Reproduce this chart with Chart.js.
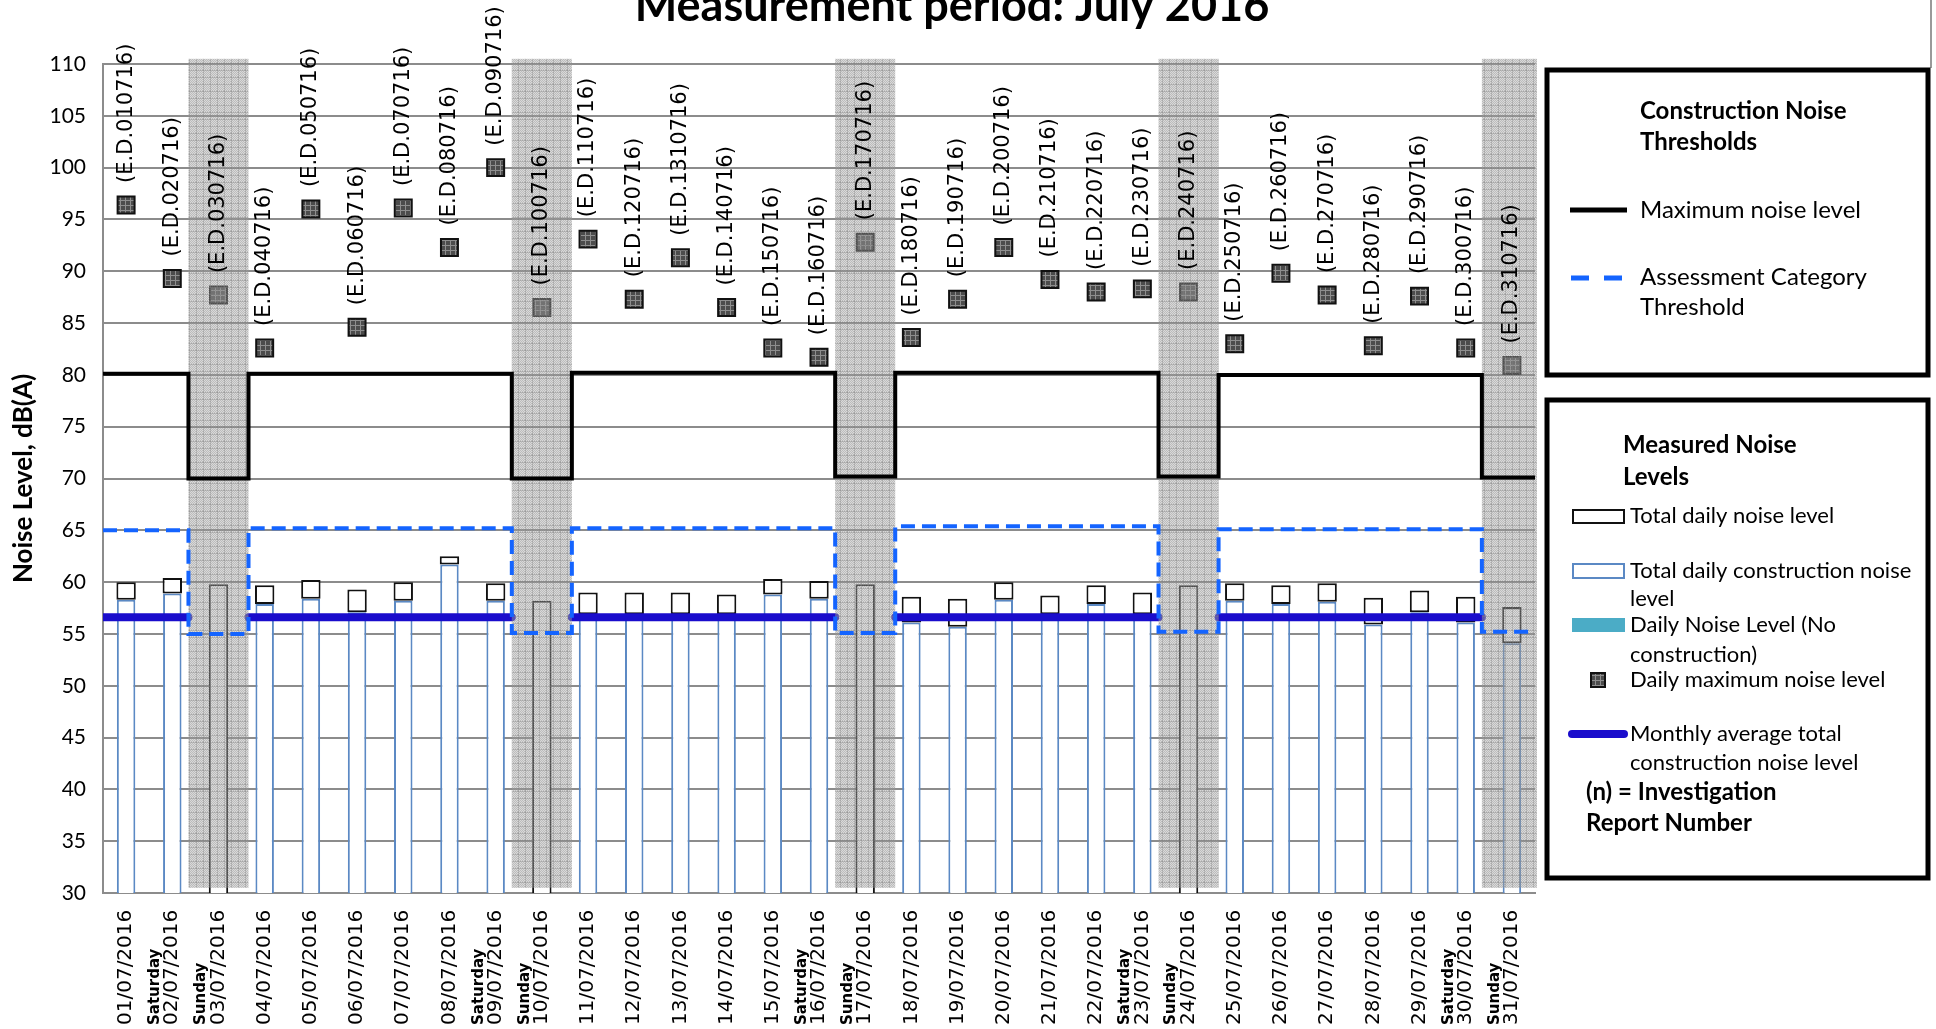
<!DOCTYPE html>
<html>
<head>
<meta charset="utf-8">
<title>Measurement period: July 2016</title>
<script src="https://cdn.jsdelivr.net/npm/chart.js@4.4.1/dist/chart.umd.min.js"></script>
<style>
  html, body { margin: 0; padding: 0; background: #fff; }
  #wrap { width: 1936px; height: 1029px; }
</style>
</head>
<body>
<div id="wrap"><canvas id="noiseChart"></canvas></div>
<script>
// Days of July 2016
const dates = [
  '01/07/2016', '02/07/2016', '03/07/2016', '04/07/2016', '05/07/2016', '06/07/2016', '07/07/2016',
  '08/07/2016', '09/07/2016', '10/07/2016', '11/07/2016', '12/07/2016', '13/07/2016', '14/07/2016',
  '15/07/2016', '16/07/2016', '17/07/2016', '18/07/2016', '19/07/2016', '20/07/2016', '21/07/2016',
  '22/07/2016', '23/07/2016', '24/07/2016', '25/07/2016', '26/07/2016', '27/07/2016', '28/07/2016',
  '29/07/2016', '30/07/2016', '31/07/2016'
];
const dayNames = [
  '', 'Saturday', 'Sunday', '', '', '', '', '', 'Saturday', 'Sunday', '', '', '', '', '', 'Saturday',
  'Sunday', '', '', '', '', '', 'Saturday', 'Sunday', '', '', '', '', '', 'Saturday', 'Sunday'
];
const reportIds = [
  '010716', '020716', '030716', '040716', '050716', '060716', '070716', '080716', '090716', '100716',
  '110716', '120716', '1310716', '140716', '150716', '160716', '170716', '180716', '190716', '200716',
  '210716', '220716', '230716', '240716', '250716', '260716', '270716', '280716', '290716', '300716',
  '310716'
];

// Measured levels, dB(A)
const totalDaily = [
  60.0, 60.4, 59.8, 59.7, 60.2, 59.3, 60.0, 62.5, 59.9, 58.2, 59.0, 59.0, 59.0, 58.8, 60.3, 60.1,
  59.8, 58.6, 58.4, 60.0, 58.7, 59.7, 59.0, 59.7, 59.9, 59.7, 59.9, 58.5, 59.2, 58.6, 57.6
];
const constructionDaily = [
  58.3, 58.9, null, 57.9, 58.4, 57.1, 58.2, 61.7, 58.2, null, 56.9, 56.9, 56.9, 56.9, 58.8, 58.4,
  null, 56.1, 55.7, 58.3, 56.9, 57.9, 56.9, null, 58.2, 57.9, 58.1, 55.9, 57.1, 56.1, 54.1
];
const dailyMax = [
  96.4, 89.3, 87.7, 82.6, 96.0, 84.6, 96.1, 92.3, 100.0, 86.5, 93.1, 87.3, 91.3, 86.5, 82.6, 81.7,
  92.8, 83.6, 87.3, 92.3, 89.2, 88.0, 88.3, 88.0, 83.0, 89.8, 87.7, 82.8, 87.6, 82.6, 80.9
];
const monthlyAverage = [
  56.6, 56.6, null, 56.6, 56.6, 56.6, 56.6, 56.6, 56.6, null, 56.6, 56.6, 56.6, 56.6, 56.6, 56.6,
  null, 56.6, 56.6, 56.6, 56.6, 56.6, 56.6, null, 56.6, 56.6, 56.6, 56.6, 56.6, 56.6, null
];

// Thresholds, dB(A)
const maxNoiseLimit = [
  80.1, 80.1, 70.0, 80.1, 80.1, 80.1, 80.1, 80.1, 80.1, 70.0, 80.2, 80.2, 80.2, 80.2, 80.2, 80.2,
  70.2, 80.2, 80.2, 80.2, 80.2, 80.2, 80.2, 70.2, 80.0, 80.0, 80.0, 80.0, 80.0, 80.0, 70.1
];
const assessmentThreshold = [
  65.0, 65.0, 55.0, 65.2, 65.2, 65.2, 65.2, 65.2, 65.2, 55.1, 65.2, 65.2, 65.2, 65.2, 65.2, 65.2,
  55.1, 65.4, 65.4, 65.4, 65.4, 65.4, 65.4, 55.2, 65.1, 65.1, 65.1, 65.1, 65.1, 65.1, 55.2
];

const yTicks = [30, 110, 5]; // min, max, step

const CALIBRI = 'Lato, "Open Sans", sans-serif';
const VERDANA = '"DejaVu Sans", Verdana, sans-serif';
const BAR_BLUE = '#5b89c4';
const AVG_BLUE = '#1a0dcc';
const DASH_BLUE = '#1464ff';
const SUNDAY_WIDTH = 1.3; // shaded band, in day widths

function makeShadePattern() {
  const c = document.createElement('canvas');
  c.width = 7; c.height = 7;
  const g = c.getContext('2d');
  g.fillStyle = 'rgba(165,165,165,0.42)';
  g.fillRect(0, 0, 7, 7);
  g.fillStyle = 'rgba(120,120,120,0.3)';
  for (let yy = 0; yy < 7; yy++) {
    for (let xx = yy % 2; xx < 7; xx += 2) g.fillRect(xx, yy, 1, 1);
  }
  g.fillStyle = 'rgba(130,130,130,0.35)';
  g.fillRect(0, 0, 7, 1);
  g.fillRect(0, 0, 1, 7);
  return g.createPattern(c, 'repeat');
}

function makeMarkerPattern() {
  const c = document.createElement('canvas');
  c.width = 5; c.height = 5;
  const g = c.getContext('2d');
  g.fillStyle = '#4c4c4c';
  g.fillRect(0, 0, 5, 5);
  g.fillStyle = '#8e8e8e';
  g.fillRect(0, 0, 5, 1);
  g.fillRect(0, 0, 1, 5);
  return g.createPattern(c, 'repeat');
}

const shadePattern = makeShadePattern();
const markerPattern = makeMarkerPattern();

// one flat segment per day; Sunday segments run to the edges of the shaded band
const isSunday = (i) => dayNames[i] === 'Sunday';
const dayEdges = (values) => {
  const half = (SUNDAY_WIDTH - 1) / 2;
  return values.flatMap((v, i) => {
    const left = i - (isSunday(i) ? half : 0) + (isSunday(i - 1) ? half : 0);
    const right = i + 1 + (isSunday(i) ? half : 0) - (isSunday(i + 1) ? half : 0);
    return [{ x: left, y: v }, { x: right, y: v }];
  });
};

// Sunday shading goes over bars/markers/average but under thresholds and labels
const sundayShade = {
  id: 'sundayShade',
  afterDatasetDraw(chart, args) {
    if (chart.data.datasets[args.index].label !== 'Monthly average total construction noise level') return;
    const { ctx, chartArea } = chart;
    const x = chart.scales.x;
    const y = chart.scales.y;
    const w = (chartArea.right - chartArea.left) / dates.length * SUNDAY_WIDTH;
    const top = y.getPixelForValue(110.5);
    const bottom = y.getPixelForValue(30.5);
    ctx.save();
    ctx.beginPath();
    ctx.rect(chartArea.left, 0, chartArea.right - chartArea.left + 2, chart.height);
    ctx.clip();
    ctx.fillStyle = shadePattern;
    dayNames.forEach((d, i) => {
      if (d !== 'Sunday') return;
      const cx = x.getPixelForValue(i);
      ctx.fillRect(cx - w / 2, top, w, bottom - top);
    });
    ctx.restore();
  }
};

const textLayer = {
  id: 'textLayer',
  afterDatasetsDraw(chart) {
    const { ctx } = chart;
    const x = chart.scales.x;
    const y = chart.scales.y;
    ctx.save();
    ctx.fillStyle = '#000';
    ctx.textBaseline = 'middle';
    ctx.textAlign = 'left';

    // investigation report numbers above the max markers
    ctx.font = '21px ' + VERDANA;
    dailyMax.forEach((v, i) => {
      ctx.save();
      ctx.translate(x.getPixelForValue(i), y.getPixelForValue(v) - 22);
      ctx.rotate(-Math.PI / 2);
      ctx.fillText('(E.D.' + reportIds[i] + ')', 0, 0);
      ctx.restore();
    });

    // category labels
    const base = chart.height - 4;
    dates.forEach((d, i) => {
      const cx = x.getPixelForValue(i);
      ctx.save();
      ctx.translate(cx, base);
      ctx.rotate(-Math.PI / 2);
      ctx.font = '20px ' + VERDANA;
      ctx.fillText(d, 0, 0);
      if (dayNames[i]) {
        ctx.font = 'bold 15px ' + VERDANA;
        ctx.fillText(dayNames[i], 0, -17);
      }
      ctx.restore();
    });
    ctx.restore();
  },
  afterDraw(chart) {
    const { ctx } = chart;
    ctx.save();

    // title, cut by the top edge as in the report
    ctx.fillStyle = '#000';
    ctx.font = 'bold 45px ' + CALIBRI;
    ctx.textAlign = 'center';
    ctx.textBaseline = 'alphabetic';
    ctx.fillText('Measurement period: July 2016', 952, 21);

    // outer frame stub
    ctx.strokeStyle = '#9a9a9a';
    ctx.lineWidth = 2;
    ctx.beginPath();
    ctx.moveTo(1931, 0);
    ctx.lineTo(1931, 68);
    ctx.stroke();

    // legend boxes
    ctx.strokeStyle = '#000';
    ctx.lineWidth = 5;
    ctx.strokeRect(1547, 70, 381, 305);
    ctx.strokeRect(1547, 400, 381, 478);

    ctx.textAlign = 'left';
    ctx.textBaseline = 'middle';
    const bold = 'bold 24px ' + CALIBRI;
    const reg1 = '24px ' + CALIBRI;
    const reg2 = '22px ' + CALIBRI;

    ctx.font = bold;
    ctx.fillText('Construction Noise', 1640, 111);
    ctx.fillText('Thresholds', 1640, 142);

    ctx.lineWidth = 5;
    ctx.strokeStyle = '#000';
    ctx.beginPath();
    ctx.moveTo(1570, 210);
    ctx.lineTo(1627, 210);
    ctx.stroke();
    ctx.font = reg1;
    ctx.fillText('Maximum noise level', 1640, 210);

    ctx.strokeStyle = DASH_BLUE;
    ctx.setLineDash([18, 15]);
    ctx.beginPath();
    ctx.moveTo(1571, 278);
    ctx.lineTo(1624, 278);
    ctx.stroke();
    ctx.setLineDash([]);
    ctx.fillText('Assessment Category', 1640, 277);
    ctx.fillText('Threshold', 1640, 307);

    ctx.font = bold;
    ctx.fillText('Measured Noise', 1623, 445);
    ctx.fillText('Levels', 1623, 477);

    ctx.lineWidth = 2;
    ctx.strokeStyle = '#111';
    ctx.strokeRect(1573, 510, 51, 13);
    ctx.strokeStyle = BAR_BLUE;
    ctx.strokeRect(1573, 564, 51, 14);
    ctx.fillStyle = '#4bacc6';
    ctx.fillRect(1572, 618, 53, 14);
    ctx.fillStyle = markerPattern;
    ctx.fillRect(1591, 673, 14, 14);
    ctx.strokeStyle = '#111';
    ctx.strokeRect(1591, 673, 14, 14);

    ctx.strokeStyle = AVG_BLUE;
    ctx.lineWidth = 8;
    ctx.lineCap = 'round';
    ctx.beginPath();
    ctx.moveTo(1572, 734);
    ctx.lineTo(1624, 734);
    ctx.stroke();

    ctx.fillStyle = '#000';
    ctx.font = reg2;
    ctx.fillText('Total daily noise level', 1630, 516);
    ctx.fillText('Total daily construction noise', 1630, 571);
    ctx.fillText('level', 1630, 599);
    ctx.fillText('Daily Noise Level (No', 1630, 625);
    ctx.fillText('construction)', 1630, 655);
    ctx.fillText('Daily maximum noise level', 1630, 680);
    ctx.fillText('Monthly average total', 1630, 734);
    ctx.fillText('construction noise level', 1630, 763);

    ctx.font = bold;
    ctx.fillText('(n) = Investigation', 1586, 792);
    ctx.fillText('Report Number', 1586, 823);

    ctx.restore();
  }
};

const ctx = document.getElementById('noiseChart').getContext('2d');
new Chart(ctx, {
  type: 'bar',
  data: {
    labels: dates,
    datasets: [
      {
        label: 'Total daily construction noise level',
        data: constructionDaily,
        backgroundColor: '#fff',
        borderColor: BAR_BLUE,
        borderWidth: 2,
        grouped: false,
        barPercentage: 0.4,
        categoryPercentage: 1.0,
        order: 7,
      },
      {
        label: 'Total daily noise level',
        data: totalDaily.map((t, i) => [constructionDaily[i] ?? 0, t]),
        backgroundColor: '#fff',
        borderColor: '#111',
        borderWidth: 2,
        borderSkipped: false,
        grouped: false,
        barPercentage: 0.42,
        categoryPercentage: 1.0,
        order: 6,
      },
      {
        type: 'line',
        label: 'Daily maximum noise level',
        data: dailyMax,
        showLine: false,
        pointStyle: 'rect',
        pointRadius: 12,
        pointBackgroundColor: markerPattern,
        pointBorderColor: '#111',
        pointBorderWidth: 2,
        order: 5,
      },
      {
        type: 'line',
        label: 'Monthly average total construction noise level',
        xAxisID: 'xs',
        data: dayEdges(monthlyAverage),
        borderColor: AVG_BLUE,
        borderWidth: 8,
        borderCapStyle: 'round',
        pointRadius: 0,
        spanGaps: false,
        order: 4,
      },
      {
        type: 'line',
        label: 'Maximum noise level',
        xAxisID: 'xs',
        data: dayEdges(maxNoiseLimit),
        borderColor: '#000',
        borderWidth: 4,
        pointRadius: 0,
        order: 2,
      },
      {
        type: 'line',
        label: 'Assessment Category Threshold',
        xAxisID: 'xs',
        data: dayEdges(assessmentThreshold),
        borderColor: DASH_BLUE,
        borderWidth: 4,
        borderDash: [14, 7],
        pointRadius: 0,
        order: 1,
      },
    ],
  },
  options: {
    responsive: true,
    maintainAspectRatio: false,
    animation: false,
    events: [],
    layout: { padding: { top: 64, right: 401, left: 0, bottom: 0 } },
    plugins: {
      legend: { display: false },
      tooltip: { enabled: false },
    },
    scales: {
      x: {
        type: 'category',
        offset: true,
        grid: { display: false },
        border: { display: true, color: '#8c8c8c', width: 2 },
        ticks: { display: false },
        afterFit: (scale) => { scale.height = 136; },
      },
      xs: {
        type: 'linear',
        min: 0,
        max: dates.length,
        offset: false,
        grid: { offset: false },
        display: false,
      },
      y: {
        min: yTicks[0],
        max: yTicks[1],
        ticks: {
          stepSize: yTicks[2],
          color: '#000',
          padding: 17,
          font: { family: CALIBRI, size: 21 },
        },
        grid: { color: '#8c8c8c', lineWidth: 2, drawTicks: false },
        border: { color: '#8c8c8c', width: 2 },
        title: {
          display: true,
          text: 'Noise Level, dB(A)',
          color: '#000',
          font: { family: CALIBRI, size: 26, weight: 'bold' },
          padding: { top: 8, bottom: 0 },
        },
        afterFit: (scale) => { scale.width = 103; },
      },
    },
  },
  plugins: [sundayShade, textLayer],
});
</script>
</body>
</html>
